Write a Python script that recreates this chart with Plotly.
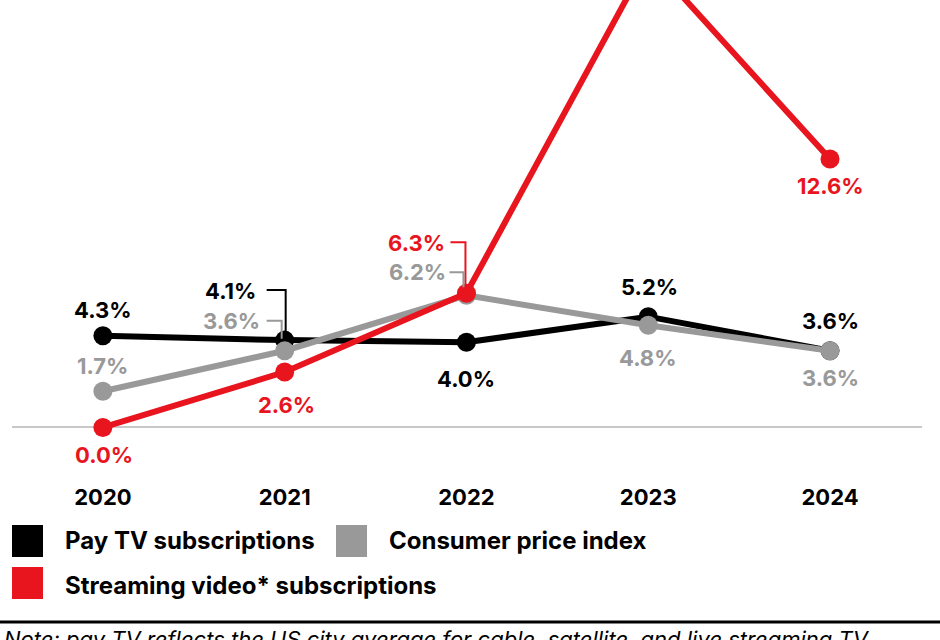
import plotly.graph_objects as go

# ---- data ----
years = [2020, 2021, 2022, 2023, 2024]
pay_tv = [4.3, 4.1, 4.0, 5.2, 3.6]
cpi = [1.7, 3.6, 6.2, 4.8, 3.6]
streaming = [0.0, 2.6, 6.3, 22.0, 12.6]
series_names = ["Pay TV subscriptions", "Consumer price index", "Streaming video* subscriptions"]
note_text = "Note: pay TV reflects the US city average for cable, satellite, and live streaming TV"

BLACK = "#000000"
GRAY = "#999999"
RED = "#E8141E"
FONT = "Inter"

W, H = 940, 640
ML, MR, MT, MB = 12, 18, 0, 170
PW, PH = W - ML - MR, H - MT - MB


def px_x(p):
    return (p - ML) / PW


def px_y(p):
    return (H - MB - p) / PH


fig = go.Figure()
for vals, col, name in [(pay_tv, BLACK, series_names[0]), (cpi, GRAY, series_names[1]),
                        (streaming, RED, series_names[2])]:
    fig.add_trace(go.Scatter(
        x=years, y=vals, mode="lines+markers", name=name,
        line=dict(color=col, width=6),
        marker=dict(color=col, size=19),
        cliponaxis=True, showlegend=False, hoverinfo="skip"))

# label offsets (pixel) per series/year: (xshift, yshift, xanchor)
label_style = {
    "pay": {2020: (0, 26, "center"), 2021: (-27, 49, "right"), 2022: (0, -37, "center"),
            2023: (1, 30, "center"), 2024: (0, 30, "center")},
    "cpi": {2020: (0, 25, "center"), 2021: (-23, 30, "right"), 2022: (-18, 23, "right"),
            2023: (0, -33, "center"), 2024: (0, -27, "center")},
    "str": {2020: (1, -28, "center"), 2021: (2, -33, "center"), 2022: (-19, 50, "right"),
            2024: (0, -27, "center")},
}

annotations = []
for key, vals, col in [("pay", pay_tv, BLACK), ("cpi", cpi, GRAY), ("str", streaming, RED)]:
    for yr, v in zip(years, vals):
        if yr not in label_style[key]:
            continue
        xs, ys, xa = label_style[key][yr]
        annotations.append(dict(
            x=yr, y=v, xref="x", yref="y", text=f"{v:.1f}%", showarrow=False,
            xshift=xs, yshift=ys, xanchor=xa, yanchor="middle",
            font=dict(family=FONT, size=22, color=col, weight="bold")))

shapes = []
# leader (elbow) connectors in pixel offsets relative to the data point
connectors = [
    (2021, pay_tv[1], BLACK, -18, 1, 50, 8),
    (2021, cpi[1], GRAY, -18, -3, 30, 12),
    (2022, streaming[2], RED, -16, -1, 51, 5),
    (2022, cpi[2], GRAY, -17, -3, 23, 8),
]
for yr, v, col, xa, xb, yh, yend in connectors:
    shapes.append(dict(type="path", xref="x", yref="y", xsizemode="pixel", ysizemode="pixel",
                       xanchor=yr, yanchor=v,
                       path=f"M {xa},{yh} L {xb},{yh} L {xb},{yend}",
                       line=dict(color=col, width=2)))

# legend (custom squares + labels): square x, square top y, colour, label, text x, text centre y
legend_items = [
    (12, 525, BLACK, series_names[0], 63, 540),
    (336, 525, GRAY, series_names[1], 387, 540),
    (12, 567, RED, series_names[2], 63, 585),
]
for x0, y0, col, name, tx, ty in legend_items:
    shapes.append(dict(type="rect", xref="paper", yref="paper",
                       x0=px_x(x0), x1=px_x(x0 + 31), y0=px_y(y0 + 32), y1=px_y(y0),
                       fillcolor=col, line=dict(width=0)))
    annotations.append(dict(xref="paper", yref="paper", x=px_x(tx), y=px_y(ty),
                            xanchor="left", yanchor="middle", showarrow=False, text=name,
                            font=dict(family=FONT, size=24, color="#000", weight="bold")))

# bottom rule and note
shapes.append(dict(type="line", xref="paper", yref="paper", x0=px_x(0), x1=px_x(W),
                   y0=px_y(622), y1=px_y(622), line=dict(color="#000", width=3)))
annotations.append(dict(xref="paper", yref="paper", x=px_x(2), y=px_y(624), xanchor="left",
                        yanchor="top", showarrow=False, text=note_text,
                        font=dict(family=FONT, size=22, color="#000", style="italic")))

fig.update_layout(
    width=W, height=H, margin=dict(l=ML, r=MR, t=MT, b=MB),
    paper_bgcolor="white", plot_bgcolor="white",
    xaxis=dict(range=[2019.5, 2024.506], tickvals=years, ticktext=[str(y) for y in years],
               showgrid=False, zeroline=False, showline=False, ticks="",
               tickfont=dict(family=FONT, size=22, color="#000", weight="bold"),
               ticklabelstandoff=12),
    yaxis=dict(range=[-2.0, 20.07], showgrid=False, showticklabels=False, ticks="",
               zeroline=True, zerolinecolor="#C8C8C8", zerolinewidth=2, showline=False),
    shapes=shapes, annotations=annotations, showlegend=False,
)

fig.write_html("out.html", config={"displayModeBar": False},
               post_script="document.body.style.margin='0';document.body.style.overflow='hidden';")
